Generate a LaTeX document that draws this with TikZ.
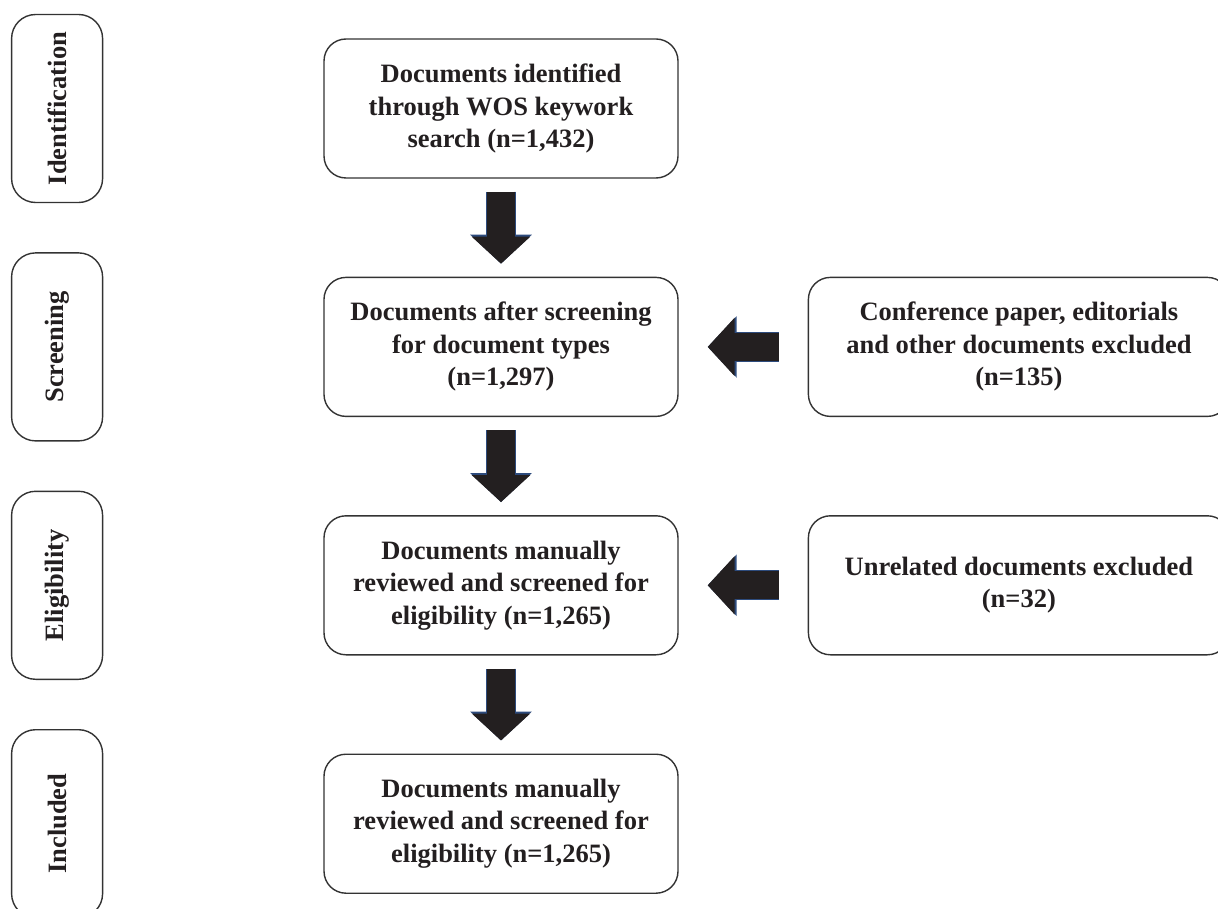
\documentclass[tikz,border=0pt]{standalone}
\usepackage{fontspec}
\setmainfont{Liberation Serif}
\usepackage{graphicx}
\usetikzlibrary{arrows.meta, positioning}
\definecolor{boxLine}{RGB}{51,51,51}
\definecolor{textBlack}{RGB}{35,31,32}
\definecolor{arrowBlue}{RGB}{45,75,125}

\begin{document}
\begin{tikzpicture}[
    x=1pt, y=-1pt,
    node distance=98pt and 129pt,
    font=\fontsize{26.5}{32.5}\selectfont\bfseries,
    stage/.style={rectangle, rounded corners=22pt, minimum width=354pt, minimum height=139pt, align=center, draw=boxLine, line width=1.4pt, text=textBlack},
    excluded/.style={stage, minimum width=421pt},
    phase/.style={rectangle, rounded corners=24pt, minimum width=91pt, minimum height=188pt, draw=boxLine, line width=1.4pt, text=textBlack},
    bigarrow/.style={-{Triangle[length=27pt, width=57pt]}, line width=28pt, draw=textBlack, shorten <=13pt, shorten >=13pt,
        preaction={draw=arrowBlue, line width=30pt, -{Triangle[length=29pt, width=60pt]}}}
]
\useasboundingbox (0,0) rectangle (1218,909);

% Main flow
\node[stage] (found) at (501,108.5) {Documents identified\\through WOS keywork\\search (n=1,432)};
\node[stage, below=of found] (screened) {Documents after screening\\for document types\\(n=1,297)};
\node[stage, below=of screened] (reviewed) {Documents manually\\reviewed and screened for\\eligibility (n=1,265)};
\node[stage, below=of reviewed] (included) {Documents manually\\reviewed and screened for\\eligibility (n=1,265)};

% Exclusions
\node[excluded, right=of screened] (typesout) {Conference paper, editorials\\and other documents excluded\\(n=135)};
\node[excluded, right=of reviewed] (unrelated) {Unrelated documents excluded\\(n=32)};

% Phase labels
\node[phase, left=220pt of found] (identLabel) {\rotatebox{90}{Identification}};
\node[phase, left=220pt of screened] (screenLabel) {\rotatebox{90}{Screening}};
\node[phase, left=220pt of reviewed] (eligLabel) {\rotatebox{90}{Eligibility}};
\node[phase, left=220pt of included] (inclLabel) {\rotatebox{90}{Included}};

% Arrows
\draw[bigarrow] (found) -- (screened);
\draw[bigarrow] (screened) -- (reviewed);
\draw[bigarrow] (reviewed) -- (included);
\draw[bigarrow, shorten <=29pt, shorten >=29pt] (typesout) -- (screened);
\draw[bigarrow, shorten <=29pt, shorten >=29pt] (unrelated) -- (reviewed);

\end{tikzpicture}
\end{document}
